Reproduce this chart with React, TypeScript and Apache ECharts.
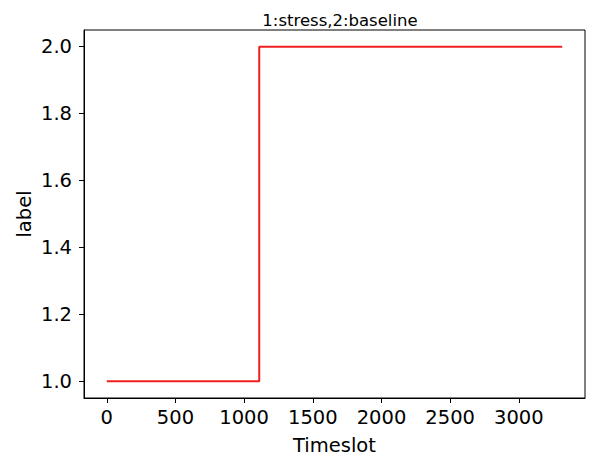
import React, { useEffect, useRef } from "react";
import * as echarts from "echarts";

const timeslots = [0, 1110, 1110, 3316];
const labels = [1, 1, 2, 2];
const xTicks = [0, 500, 1000, 1500, 2000, 2500, 3000];
const yTicks = [1.0, 1.2, 1.4, 1.6, 1.8, 2.0];
const titleText = "1:stress,2:baseline";
const xName = "Timeslot";
const yName = "label";

export default function App() {
  const ref = useRef<HTMLDivElement>(null);
  useEffect(() => {
    if (!ref.current) return;
    const chart = echarts.init(ref.current, undefined, { renderer: "svg" });
    const font = "DejaVu Sans";
    const xSpan = timeslots[timeslots.length - 1] - timeslots[0];
    const ySpan = 2 - 1;
    chart.setOption({
      animation: false,
      backgroundColor: "#fff",
      title: {
        text: titleText,
        left: 335,
        top: 7,
        textAlign: "center",
        textStyle: { fontFamily: font, fontSize: 16.5, fontWeight: "normal", color: "#000" },
      },
      grid: {
        left: 84,
        top: 30,
        right: 19,
        bottom: 58,
        show: true,
        borderColor: "#000",
        borderWidth: 1,
        backgroundColor: "transparent",
      },
      xAxis: {
        type: "value",
        min: timeslots[0] - xSpan * 0.05,
        max: timeslots[timeslots.length - 1] + xSpan * 0.05,
        name: xName,
        nameLocation: "middle",
        nameGap: 37,
        nameMoveOverlap: false,
        nameTextStyle: { fontFamily: font, fontSize: 19.5, color: "#000" },
        splitLine: { show: false },
        axisLine: { show: true, onZero: false, lineStyle: { color: "#000", width: 1 } },
        axisTick: { show: true, customValues: xTicks, length: 5, lineStyle: { color: "#000" } },
        axisLabel: {
          customValues: xTicks,
          formatter: (v: number) => String(Math.round(v)),
          fontFamily: font,
          fontSize: 19.5,
          color: "#000",
          margin: 9,
          showMinLabel: true,
          showMaxLabel: true,
        },
      },
      yAxis: {
        type: "value",
        min: 1 - ySpan * 0.05,
        max: 2 + ySpan * 0.05,
        name: yName,
        nameLocation: "middle",
        nameGap: 50,
        nameMoveOverlap: false,
        nameRotate: 90,
        nameTextStyle: { fontFamily: font, fontSize: 19.5, color: "#000" },
        splitLine: { show: false },
        axisLine: { show: true, onZero: false, lineStyle: { color: "#000", width: 1 } },
        axisTick: { show: true, customValues: yTicks, length: 5, lineStyle: { color: "#000" } },
        axisLabel: {
          customValues: yTicks,
          formatter: (v: number) => v.toFixed(1),
          fontFamily: font,
          fontSize: 19.5,
          color: "#000",
          margin: 12,
          showMinLabel: true,
          showMaxLabel: true,
        },
      },
      series: [
        {
          type: "line",
          data: timeslots.map((t, i) => [t, labels[i]]),
          showSymbol: false,
          lineStyle: { color: "#ee2020", width: 2 },
          itemStyle: { color: "#ee2020" },
        },
      ],
    });
    return () => chart.dispose();
  }, []);
  return <div ref={ref} style={{ width: 604, height: 460, margin: -8 }} />;
}
